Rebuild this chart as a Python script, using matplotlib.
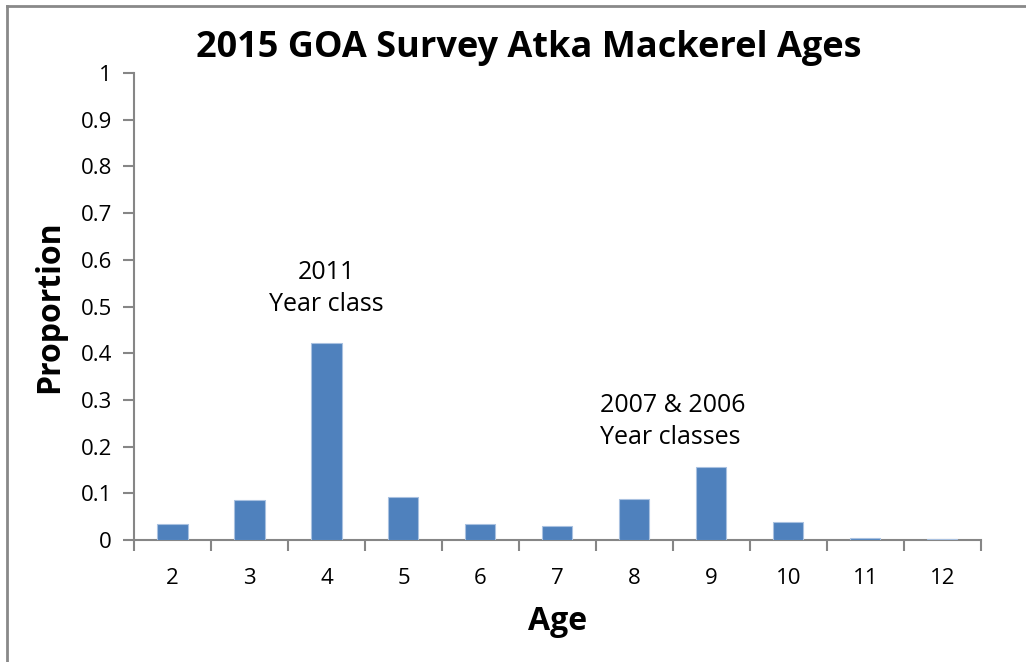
import matplotlib.pyplot as plt
from matplotlib.lines import Line2D

ages = ["2", "3", "4", "5", "6", "7", "8", "9", "10", "11", "12"]
proportion = [0.034, 0.086, 0.4225, 0.092, 0.035, 0.030, 0.087, 0.156, 0.039, 0.004, 0.003]

bar_color = "#4F81BD"
axis_gray = "#868686"
font = "Open Sans"

fig = plt.figure(figsize=(10.26, 6.62), dpi=100)
ax = fig.add_axes([0.1306, 0.1843, 0.8255, 0.7054])

x = list(range(len(ages)))
ax.bar(x, proportion, width=0.39, color=bar_color, edgecolor="#A9C1E0", linewidth=0.8, zorder=3)

ax.set_xlim(-0.5, len(ages) - 0.5)
ax.set_ylim(0, 1)
ax.set_yticks([i / 10 for i in range(11)])
ax.set_yticklabels(["0"] + ["0.%d" % i for i in range(1, 10)] + ["1"])

# categories labelled at centres, ticks drawn at the boundaries
ax.set_xticks([i - 0.5 for i in range(len(ages) + 1)])
ax.set_xticklabels([])
ax.set_xticks(x, minor=True)
ax.set_xticklabels(ages, minor=True)
ax.tick_params(axis="x", which="minor", length=0, pad=20)
ax.tick_params(axis="x", which="major", length=8, width=1.5, color=axis_gray, direction="out")
ax.tick_params(axis="y", length=8, width=1.5, color=axis_gray, direction="out", pad=8)

for lab in ax.get_xticklabels(minor=True) + ax.get_yticklabels():
    lab.set_fontfamily(font)
    lab.set_fontsize(16)

for s in ["top", "right"]:
    ax.spines[s].set_visible(False)
for s in ["left", "bottom"]:
    ax.spines[s].set_color(axis_gray)
    ax.spines[s].set_linewidth(1.5)

ax.set_xlabel("Age", fontfamily=font, fontsize=23, fontweight="bold", labelpad=12)
ax.set_ylabel("Proportion", fontfamily=font, fontsize=23, fontweight="bold", labelpad=10)
fig.text(0.515, 0.928, "2015 GOA Survey Atka Mackerel Ages", ha="center", va="center",
         fontfamily=font, fontsize=26, fontweight="bold")

ax.text(2, 0.538, "2011\nYear class", ha="center", va="center", fontfamily=font,
        fontsize=18, linespacing=1.35)
ax.text(5.55, 0.254, "2007 & 2006\nYear classes", ha="left", va="center", fontfamily=font,
        fontsize=18, linespacing=1.35, multialignment="left")

# chart-area border (top and left edges)
fig.add_artist(Line2D([0.0068, 0.0068], [0, 0.991], transform=fig.transFigure, color="#898989", linewidth=2))
fig.add_artist(Line2D([0.0068, 1.0], [0.991, 0.991], transform=fig.transFigure, color="#898989", linewidth=2))

fig.savefig("out.png", dpi=100)
